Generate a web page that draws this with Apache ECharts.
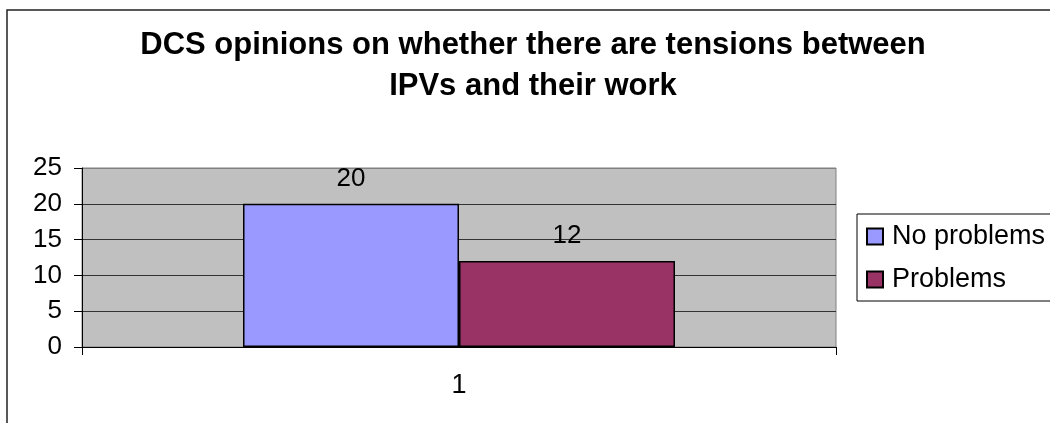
<!DOCTYPE html>
<html>
<head>
<meta charset="utf-8">
<script src="https://cdn.jsdelivr.net/npm/echarts@6/dist/echarts.min.js"></script>
<style>
  html, body { margin: 0; padding: 0; background: #fff; }
  #chart { width: 1050px; height: 423px; }
</style>
</head>
<body>
<div id="chart"></div>
<script>
const categories = ['1']
const noProblems = [20]
const problems = [12]
const yTicks = [0, 5, 10, 15, 20, 25]

const font = 'Liberation Sans, Arial, sans-serif'
const chart = echarts.init(document.getElementById('chart'))

chart.setOption({
  animation: false,
  textStyle: { fontFamily: font },
  graphic: [{
    type: 'rect', shape: { x: 7, y: 10, width: 1200, height: 600 },
    style: { fill: 'none', stroke: '#222', lineWidth: 1.5 }, z: 100
  }],
  title: {
    text: 'DCS opinions on whether there are tensions between\nIPVs and their work',
    left: 533, top: 25, padding: 0, textAlign: 'center',
    textStyle: { fontFamily: font, fontSize: 31, fontWeight: 'bold', color: '#000', lineHeight: 41 }
  },
  legend: {
    orient: 'vertical', left: 857, top: 214,
    padding: [9, 20, 8, 9], itemGap: 16,
    itemWidth: 16, itemHeight: 16, icon: 'rect',
    borderColor: '#000', borderWidth: 1, backgroundColor: '#fff',
    textStyle: { fontFamily: font, fontSize: 27, color: '#000', padding: [0, 0, 0, 4] },
    data: ['No problems', 'Problems']
  },
  grid: {
    left: 82, right: 214, top: 168, bottom: 76,
    show: true, backgroundColor: '#C0C0C0', borderColor: '#808080', borderWidth: 1
  },
  xAxis: {
    type: 'category', data: categories,
    axisLine: { lineStyle: { color: '#000', width: 1 } },
    axisTick: { show: true, length: 8, lineStyle: { color: '#000' } },
    axisLabel: { fontFamily: font, fontSize: 27, color: '#000', margin: 25 }
  },
  yAxis: {
    type: 'value', min: yTicks[0], max: yTicks[yTicks.length - 1], interval: 5,
    axisLine: { show: true, lineStyle: { color: '#000', width: 1 } },
    axisTick: { show: true, length: 8, lineStyle: { color: '#000' } },
    axisLabel: { fontFamily: font, fontSize: 26, color: '#000', margin: 20 },
    splitLine: { show: true, lineStyle: { color: ['#333', '#333', '#333', '#333', '#333', '#808080'], width: 1 } }
  },
  series: [
    {
      name: 'No problems', type: 'bar', data: noProblems,
      barWidth: 216, barGap: '0%',
      itemStyle: { color: '#9999FF', borderColor: '#000', borderWidth: 1.5 },
      label: { show: true, position: 'top', distance: 12, fontFamily: font, fontSize: 26, color: '#000' }
    },
    {
      name: 'Problems', type: 'bar', data: problems,
      barWidth: 216, barGap: '0%',
      itemStyle: { color: '#993366', borderColor: '#000', borderWidth: 1.5 },
      label: { show: true, position: 'top', distance: 12, fontFamily: font, fontSize: 26, color: '#000' }
    }
  ]
})
</script>
</body>
</html>
